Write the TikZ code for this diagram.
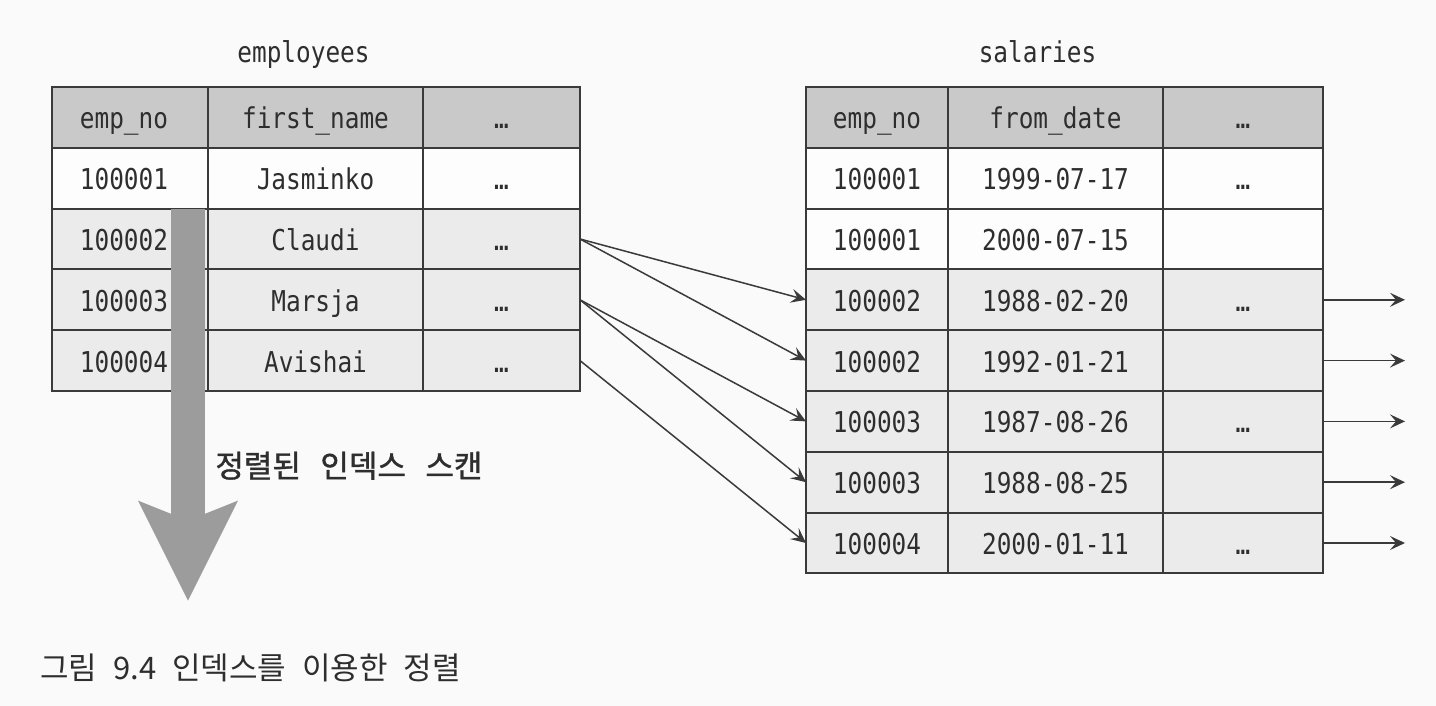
\documentclass[tikz,border=0pt]{standalone}
\usepackage{fontspec}
\newfontfamily\tabfont[FakeStretch=0.85]{DejaVu Sans Mono}
\newfontfamily\korfont[WordSpace=2.3]{Noto Sans CJK KR}
\newfontfamily\korlabelfont[WordSpace=2.8,FakeBold=1.2]{Noto Sans CJK KR}
\usetikzlibrary{arrows.meta,positioning,calc}
\definecolor{pagegray}{HTML}{FAFAFA}
\definecolor{headgray}{HTML}{C9C9C9}
\definecolor{rowgray}{HTML}{EBEBEB}
\definecolor{rowwhite}{HTML}{FDFDFD}
\definecolor{linegray}{HTML}{3A3A3A}
\definecolor{scangray}{HTML}{9C9C9C}
\definecolor{textgray}{HTML}{2E2E2E}

\begin{document}
\begin{tikzpicture}[
    >={Stealth[length=7.5pt,width=7pt,inset=3pt]},
    % one table cell
    cell/.style={draw=linegray, line width=1pt, outer sep=0pt, inner sep=0pt, minimum height=30.4pt, text height=11.5pt, text depth=0pt, font=\tabfont\fontsize{14.35pt}{16pt}\selectfont, text=textgray},
    hcell/.style={cell, fill=headgray},
    % first column of employees sits a bit left
    empcell/.style={minimum width=78pt, execute at end node=\hspace*{6pt}},
    title/.style={font=\tabfont\fontsize{14.35pt}{16pt}\selectfont, text=textgray, inner sep=0pt, anchor=base},
    link/.style={->, draw=linegray, line width=0.75pt},
    scan/.style={draw=scangray, line width=17pt, -{Stealth[length=50pt,width=50pt,inset=10pt,line width=0pt]}}
  ]
  \path[use as bounding box, fill=pagegray] (0,0) rectangle (718pt,-353pt);

  % employees
  \node[hcell, empcell, anchor=north west] (emp-0-1) at (26pt,-43.5pt) {emp\_no};
  \node[hcell, minimum width=107.5pt, right=0pt of emp-0-1] (emp-0-2) {first\_name};
  \node[hcell, minimum width=78.5pt, right=0pt of emp-0-2] (emp-0-3) {…};
  \foreach \no/\nm/\bg [count=\r] in {100001/Jasminko/rowwhite, 100002/Claudi/rowgray, 100003/Marsja/rowgray, 100004/Avishai/rowgray}{
    \pgfmathtruncatemacro\p{\r-1}
    \node[cell, empcell, fill=\bg, below=0pt of emp-\p-1] (emp-\r-1) {\no};
    \node[cell, fill=\bg, minimum width=107.5pt, right=0pt of emp-\r-1] (emp-\r-2) {\nm};
    \node[cell, fill=\bg, minimum width=78.5pt, right=0pt of emp-\r-2] (emp-\r-3) {…};
  }
  \node[title] (emp-title) at ([xshift=-6pt,yshift=12pt]emp-0-2.north) {employees};

  % salaries
  \node[hcell, minimum width=71pt, anchor=north west] (sal-0-1) at (403pt,-43.5pt) {emp\_no};
  \node[hcell, minimum width=107.5pt, right=0pt of sal-0-1] (sal-0-2) {from\_date};
  \node[hcell, minimum width=80pt, right=0pt of sal-0-2] (sal-0-3) {…};
  \foreach \no/\dt/\ex/\bg [count=\r] in {100001/1999-07-17/…/rowwhite, 100001/2000-07-15//rowwhite, 100002/1988-02-20/…/rowgray, 100002/1992-01-21//rowgray, 100003/1987-08-26/…/rowgray, 100003/1988-08-25//rowgray, 100004/2000-01-11/…/rowgray}{
    \pgfmathtruncatemacro\p{\r-1}
    \node[cell, fill=\bg, minimum width=71pt, below=0pt of sal-\p-1] (sal-\r-1) {\no};
    \node[cell, fill=\bg, minimum width=107.5pt, right=0pt of sal-\r-1] (sal-\r-2) {\dt};
    \node[cell, fill=\bg, minimum width=80pt, right=0pt of sal-\r-2] (sal-\r-3) {\ex};
  }
  \node[title] (sal-title) at ([xshift=-9pt,yshift=12pt]sal-0-2.north) {salaries};

  % lookups
  \foreach \a/\b in {2/3, 2/4, 3/5, 3/6, 4/7}
    \draw[link] (emp-\a-3.east) -- (sal-\b-1.west);
  \foreach \r in {3,...,7}{
    \coordinate (sal-out-\r) at ([xshift=41pt]sal-\r-3.east);
    \draw[link] (sal-\r-3.east) -- (sal-out-\r);
  }

  % index scan
  \coordinate (scan-top) at ([xshift=-10pt]emp-2-1.north east);
  \coordinate (scan-tip) at ([yshift=-196pt]scan-top);
  \draw[scan] (scan-top) -- (scan-tip);
  \node[font=\korlabelfont\fontsize{15.5pt}{18pt}\selectfont, text=textgray, anchor=west, inner sep=0pt] (scan-label) at ($(scan-top)!0.656!(scan-tip)+(13.5pt,0)$) {정렬된 인덱스 스캔};

  \node[font=\korfont\fontsize{15.5pt}{18pt}\selectfont, text=textgray, anchor=west, inner sep=0pt] (caption) at (20pt,-334pt) {그림 9.4 인덱스를 이용한 정렬};
\end{tikzpicture}
\end{document}
